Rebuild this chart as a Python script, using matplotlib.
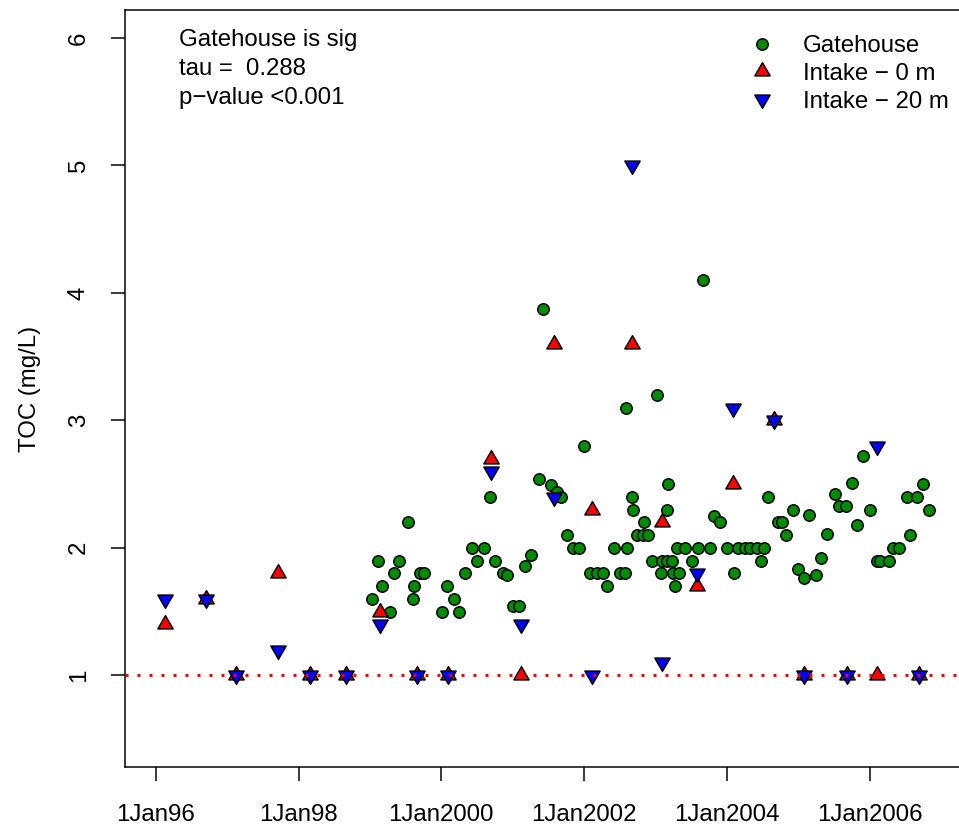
import matplotlib
matplotlib.use("Agg")
import matplotlib.pyplot as plt
from matplotlib.path import Path
from datetime import datetime

plt.rcParams['font.family'] = ['Liberation Sans', 'DejaVu Sans']
plt.rcParams['font.size'] = 12

# Gatehouse TOC samples: decimal year, mg/L
gate_year = [
    1999.03, 1999.11, 1999.17, 1999.28, 1999.34, 1999.41, 1999.53, 1999.60, 1999.62, 1999.70,
    1999.76, 2000.01, 2000.08, 2000.18, 2000.25, 2000.33, 2000.43, 2000.50, 2000.60, 2000.68,
    2000.75, 2000.87, 2000.92, 2001.00, 2001.09, 2001.17, 2001.26, 2001.37, 2001.43, 2001.54,
    2001.62, 2001.68, 2001.76, 2001.85, 2001.93, 2002.00, 2002.08, 2002.18, 2002.27, 2002.32,
    2002.42, 2002.50, 2002.57, 2002.59, 2002.60, 2002.67, 2002.69, 2002.74, 2002.83, 2002.84,
    2002.90, 2002.95, 2003.02, 2003.08, 2003.09, 2003.16, 2003.16, 2003.18, 2003.23, 2003.25,
    2003.27, 2003.30, 2003.33, 2003.42, 2003.51, 2003.60, 2003.67, 2003.77, 2003.82, 2003.91,
    2004.00, 2004.10, 2004.16, 2004.26, 2004.33, 2004.42, 2004.48, 2004.52, 2004.58, 2004.72,
    2004.78, 2004.83, 2004.93, 2005.00, 2005.08, 2005.15, 2005.25, 2005.32, 2005.40, 2005.52,
    2005.57, 2005.67, 2005.76, 2005.83, 2005.91, 2006.01, 2006.11, 2006.15, 2006.27, 2006.33,
    2006.42, 2006.53, 2006.57, 2006.67, 2006.75, 2006.84,
]
gate_toc = [
    1.60, 1.90, 1.70, 1.50, 1.80, 1.90, 2.20, 1.60, 1.70, 1.80,
    1.80, 1.50, 1.70, 1.60, 1.50, 1.80, 2.00, 1.90, 2.00, 2.40,
    1.90, 1.80, 1.79, 1.54, 1.54, 1.86, 1.94, 2.54, 3.87, 2.49,
    2.44, 2.40, 2.10, 2.00, 2.00, 2.80, 1.80, 1.80, 1.80, 1.70,
    2.00, 1.80, 1.80, 3.10, 2.00, 2.40, 2.30, 2.10, 2.10, 2.20,
    2.10, 1.90, 3.20, 1.80, 1.90, 1.90, 2.30, 2.50, 1.90, 1.80,
    1.70, 2.00, 1.80, 2.00, 1.90, 2.00, 4.10, 2.00, 2.25, 2.20,
    2.00, 1.80, 2.00, 2.00, 2.00, 2.00, 1.90, 2.00, 2.40, 2.20,
    2.20, 2.10, 2.30, 1.83, 1.76, 2.26, 1.79, 1.92, 2.11, 2.42,
    2.33, 2.33, 2.51, 2.18, 2.72, 2.30, 1.90, 1.90, 1.90, 2.00,
    2.00, 2.40, 2.10, 2.40, 2.50, 2.30,
]

# Intake samples, both depths taken on the same dates
intake_year = [
    1996.13, 1996.70, 1997.12, 1997.71, 1998.16, 1998.66, 1999.14, 1999.66, 2000.09, 2000.70,
    2001.12, 2001.58, 2002.11, 2002.67, 2003.09, 2003.58, 2004.09, 2004.66, 2005.08, 2005.69,
    2006.11, 2006.70,
]
intake_0m = [
    1.4, 1.6, 1.0, 1.8, 1.0, 1.0, 1.5, 1.0, 1.0, 2.7,
    1.0, 3.6, 2.3, 3.6, 2.2, 1.7, 2.5, 3.0, 1.0, 1.0,
    1.0, 1.0,
]
intake_20m = [
    1.6, 1.6, 1.0, 1.2, 1.0, 1.0, 1.4, 1.0, 1.0, 2.6,
    1.4, 2.4, 1.0, 5.0, 1.1, 1.8, 3.1, 3.0, 1.0, 1.0,
    2.8, 1.0,
]

tick_years = [1996, 1998, 2000, 2002, 2004, 2006]
tick_labels = ["1Jan96", "1Jan98", "1Jan2000", "1Jan2002", "1Jan2004", "1Jan2006"]
detection_limit = 1.0
notes = ["Gatehouse is sig", "tau =  0.288", "p\u2212value <0.001"]


def to_date(y):
    yr = int(y)
    start = datetime(yr, 1, 1)
    return start + (datetime(yr + 1, 1, 1) - start) * (y - yr)


# triangles centred on their centroid so up + down overlap as a star
tri_up = Path([(0, 1), (-0.866, -0.5), (0.866, -0.5), (0, 1)],
              [Path.MOVETO, Path.LINETO, Path.LINETO, Path.CLOSEPOLY])
tri_down = Path([(0, -1), (0.866, 0.5), (-0.866, 0.5), (0, -1)],
                [Path.MOVETO, Path.LINETO, Path.LINETO, Path.CLOSEPOLY])

W, H, DPI = 959, 826, 144
fig = plt.figure(figsize=(W / DPI, H / DPI), dpi=DPI)
ax = fig.add_axes([124.7 / W, 59 / H, 1 - 124.7 / W, 757 / H])

gate_dates = [to_date(y) for y in gate_year]
intake_dates = [to_date(y) for y in intake_year]

ax.plot(gate_dates, gate_toc, ls='none', marker='o', ms=5.7, mfc='#008B00',
        mec='black', mew=0.75, label='Gatehouse', zorder=3)
ax.plot(intake_dates, intake_0m, ls='none', marker=tri_up, ms=8.8, mfc='red',
        mec='black', mew=0.75, label='Intake \u2212 0 m', zorder=4)
ax.plot(intake_dates, intake_20m, ls='none', marker=tri_down, ms=8.8, mfc='blue',
        mec='black', mew=0.75, label='Intake \u2212 20 m', zorder=5)
ax.axhline(detection_limit, color='red', lw=1.5, ls=(0, (1, 3)), zorder=6)

ax.set_xlim(to_date(1995.563), to_date(2007.255))
ax.set_ylim(0.28, 6.22)
ax.set_xticks([datetime(y, 1, 1) for y in tick_years])
ax.set_xticklabels(tick_labels)
ax.set_yticks(range(1, 7))
ax.tick_params(length=7, width=0.75, pad=10.5, labelsize=12)
ax.tick_params(axis='x', pad=11.5)
for lab in ax.get_yticklabels():
    lab.set_rotation(90)
    lab.set_va('center')

for s in ax.spines.values():
    s.set_linewidth(0.75)
ax.spines['right'].set_visible(False)

ax.set_ylabel('TOC (mg/L)', fontsize=12)
ax.yaxis.set_label_coords(-0.1, 0.5)

ax.legend(loc='upper left', bbox_to_anchor=(750 / W, 1 - 35 / H),
          bbox_transform=fig.transFigure, frameon=False, borderpad=0,
          borderaxespad=0, handlelength=1.0, handletextpad=1.2,
          labelspacing=0.24, numpoints=1, fontsize=12)

for i, s in enumerate(notes):
    fig.text(179 / W, 1 - (46 + 29 * i) / H, s, ha='left', va='baseline', fontsize=12)

fig.savefig('out.png', dpi=DPI)
